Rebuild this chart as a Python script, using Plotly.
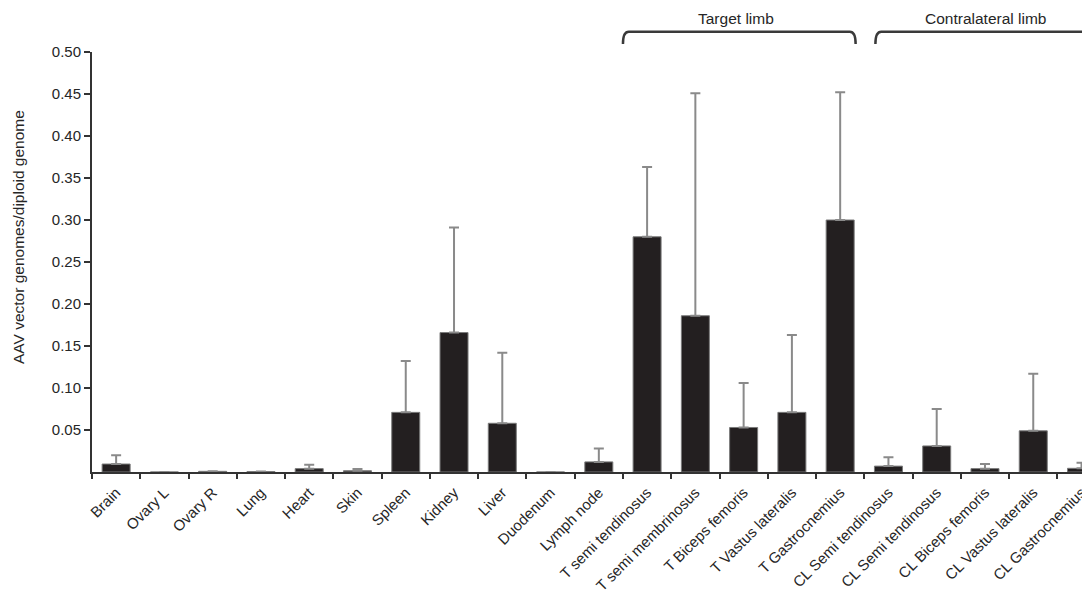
import plotly.graph_objects as go

# Tissue / muscle categories along the x axis
tissues = [
    "Brain", "Ovary L", "Ovary R", "Lung", "Heart", "Skin", "Spleen", "Kidney",
    "Liver", "Duodenum", "Lymph node",
    "T semi tendinosus", "T semi membrinosus", "T Biceps femoris",
    "T Vastus lateralis", "T Gastrocnemius",
    "CL Semi tendinosus", "CL Semi tendinosus", "CL Biceps femoris",
    "CL Vastus lateralis", "CL Gastrocnemius",
]

# Mean AAV vector genomes per diploid genome
mean_vg = [
    0.0095, 0.0, 0.0008, 0.0005, 0.004, 0.0015, 0.071, 0.166,
    0.058, 0.0, 0.012,
    0.280, 0.186, 0.053, 0.071, 0.300,
    0.007, 0.031, 0.004, 0.049, 0.0044,
]

# Upper error (SD)
sd_vg = [
    0.0105, 0.0, 0.0, 0.0, 0.0047, 0.002, 0.061, 0.125,
    0.084, 0.0, 0.016,
    0.083, 0.265, 0.053, 0.092, 0.152,
    0.0105, 0.044, 0.0055, 0.068, 0.0066,
]

y_ticks = [0.05, 0.10, 0.15, 0.20, 0.25, 0.30, 0.35, 0.40, 0.45, 0.50]

# Limb groups: label, bracket start / end (x units), label centre (x units)
limb_groups = [
    ("Target limb", 10.5, 15.32, 12.84),
    ("Contralateral limb", 15.73, 20.7, 18.01),
]

x_pos = list(range(len(tissues)))
font_family = "Liberation Sans, Arial, Helvetica, sans-serif"
ink = "#262626"
axis_col = "#333333"

fig = go.Figure(
    go.Bar(
        x=x_pos,
        y=mean_vg,
        width=0.58,
        marker=dict(color="#231f20", line=dict(color="#7a7a7a", width=1)),
        error_y=dict(
            type="data",
            symmetric=False,
            array=sd_vg,
            arrayminus=[0] * len(sd_vg),
            color="#8a8a8a",
            thickness=2,
            width=5,
        ),
    )
)

fig.update_xaxes(
    range=[-0.5, 20.01],
    automargin=False,
    tickmode="array",
    tickvals=x_pos,
    ticktext=tissues,
    tickangle=-45,
    ticks="",
    ticklabeloverflow="allow",
    ticklabelstandoff=4,
    showline=True,
    linecolor=axis_col,
    linewidth=2,
    showgrid=False,
    zeroline=False,
    tickfont=dict(family=font_family, size=15, color=ink),
    minor=dict(
        tickmode="array",
        tickvals=[i - 0.5 for i in x_pos] + [len(x_pos) - 0.5],
        ticks="outside",
        ticklen=5,
        tickwidth=2,
        tickcolor=axis_col,
        showgrid=False,
    ),
)

fig.update_yaxes(
    range=[0, 0.5],
    automargin=False,
    tickmode="array",
    tickvals=y_ticks,
    ticktext=[f"{v:.2f}" for v in y_ticks],
    ticks="outside",
    ticklen=6,
    tickwidth=2,
    tickcolor=axis_col,
    showline=True,
    linecolor=axis_col,
    linewidth=2,
    showgrid=False,
    zeroline=False,
    tickfont=dict(family=font_family, size=15, color=ink),
)

# Curly brackets over the limb groups
shapes = []
annotations = []
for label, x0, x1, xc in limb_groups:
    y_top = 1.048
    y_end = 1.019
    dx = 0.12
    path = (
        f"M {x0},{y_end} Q {x0},{y_top} {x0 + dx},{y_top} "
        f"L {x1 - dx},{y_top} Q {x1},{y_top} {x1},{y_end}"
    )
    shapes.append(
        dict(
            type="path",
            path=path,
            xref="x",
            yref="paper",
            line=dict(color="#3a3a3a", width=2.5),
        )
    )
    annotations.append(
        dict(
            text=label,
            x=xc,
            y=1.079,
            xref="x",
            yref="paper",
            showarrow=False,
            font=dict(family=font_family, size=15.5, color=ink),
            xanchor="center",
            yanchor="middle",
        )
    )

# Y axis title
annotations.append(
    dict(
        text="AAV vector genomes/diploid genome",
        textangle=-90,
        x=-74 / 990,
        y=(472 - 237) / 420,
        xref="paper",
        yref="paper",
        showarrow=False,
        font=dict(family=font_family, size=15.5, color=ink),
        xanchor="center",
        yanchor="middle",
    )
)

fig.update_layout(
    width=1082,
    height=598,
    margin=dict(l=92, r=0, t=52, b=126),
    plot_bgcolor="white",
    paper_bgcolor="white",
    showlegend=False,
    shapes=shapes,
    annotations=annotations,
)

fig.write_html("out.html")
